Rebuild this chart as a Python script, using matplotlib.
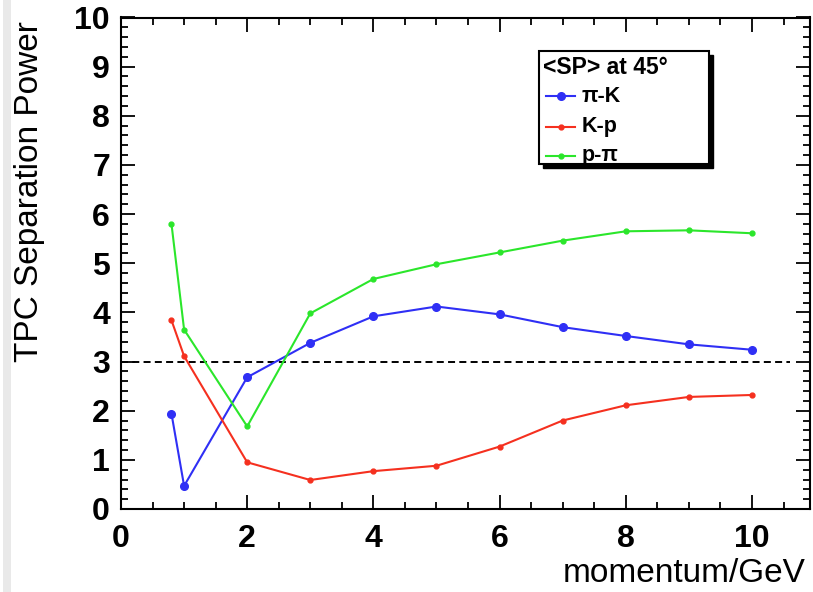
import matplotlib
matplotlib.use("Agg")
import matplotlib.pyplot as plt
from matplotlib.patches import Rectangle
from matplotlib.lines import Line2D
from matplotlib.ticker import MultipleLocator

momentum = [0.8, 1, 2, 3, 4, 5, 6, 7, 8, 9, 10]
sp_pi_k = [1.94, 0.47, 2.68, 3.38, 3.92, 4.12, 3.96, 3.70, 3.52, 3.35, 3.24]
sp_k_p = [3.84, 3.11, 0.95, 0.59, 0.77, 0.88, 1.27, 1.80, 2.11, 2.28, 2.32]
sp_p_pi = [5.80, 3.65, 1.68, 3.98, 4.68, 4.98, 5.22, 5.46, 5.65, 5.67, 5.61]
threshold = 3

blue = "#2f2ff5"
red = "#f5301f"
green = "#2be62b"

W, H = 813, 592
plt.rcParams['font.family'] = ['Liberation Sans', 'DejaVu Sans']

fig = plt.figure(figsize=(W / 100, H / 100), dpi=100)
# axes box in pixels: left 121, right 810, top 17.5, bottom 509
ax = fig.add_axes([121 / W, 1 - 509 / H, (810 - 121) / W, (509 - 17.5) / H])

ax.plot(momentum, sp_pi_k, color=blue, lw=1.5, marker='o', ms=5.5, zorder=3)
ax.plot(momentum, sp_k_p, color=red, lw=1.5, marker='o', ms=3.5, zorder=3)
ax.plot(momentum, sp_p_pi, color=green, lw=1.5, marker='o', ms=3.5, zorder=3)
ax.plot([0, 10.6], [threshold, threshold], color='black', lw=1.4,
        dashes=(3.6, 2.2), zorder=2)

ax.set_xlim(0, 10.92)
ax.set_ylim(0, 10)
ax.xaxis.set_major_locator(MultipleLocator(2))
ax.xaxis.set_minor_locator(MultipleLocator(0.5))
ax.yaxis.set_major_locator(MultipleLocator(1))
ax.yaxis.set_minor_locator(MultipleLocator(0.2))
ax.tick_params(which='both', direction='in', top=True, right=True, width=1.3)
ax.tick_params(which='major', length=10)
ax.tick_params(which='minor', length=5)
ax.tick_params(axis='x', pad=11)
ax.tick_params(axis='y', pad=8)
for lab in ax.get_xticklabels() + ax.get_yticklabels():
    lab.set_fontsize(23)
    lab.set_fontweight('bold')
for s in ax.spines.values():
    s.set_linewidth(1.5)

fig.text(30 / W, 1 - 21 / H, "TPC Separation Power", rotation=90,
         ha='center', va='top', fontsize=24)
fig.text(806 / W, 1 - 574 / H, "momentum/GeV", ha='right', va='center',
         fontsize=24)

# grey strip at left edge
fig.add_artist(Rectangle((3 / W, 0), 8 / W, 1, transform=fig.transFigure,
                         facecolor='#e9e9e9', edgecolor='none'))

# legend box with shadow
def px(x, y):
    return x / W, 1 - y / H

lx0, ly0, lx1, ly1 = 539, 51, 709, 164
fig.add_artist(Rectangle(px(lx0 + 4, ly1 + 4), (lx1 - lx0) / W, (ly1 - ly0) / H,
                         transform=fig.transFigure, facecolor='black',
                         edgecolor='black', zorder=5))
fig.add_artist(Rectangle(px(lx0, ly1), (lx1 - lx0) / W, (ly1 - ly0) / H,
                         transform=fig.transFigure, facecolor='white',
                         edgecolor='black', lw=1.5, zorder=6))
fig.text(*px(543, 68), "<SP> at 45°", ha='left', va='center',
         fontsize=16.5, fontweight='bold', zorder=7)
entries = [("π-K", blue, 5.5, 96), ("K-p", red, 3.5, 127), ("p-π", green, 3.5, 156)]
for name, col, ms, yy in entries:
    x0, y0 = px(546, yy)
    x1, _ = px(575, yy)
    fig.add_artist(Line2D([x0, x1], [y0, y0], transform=fig.transFigure,
                          color=col, lw=1.5, zorder=7))
    fig.add_artist(Line2D([(x0 + x1) / 2], [y0], transform=fig.transFigure,
                          color=col, marker='o', ms=ms, zorder=7))
    fig.text(*px(582, yy), name, ha='left', va='center', fontsize=15.5,
             fontweight='bold', zorder=7)

fig.savefig("out.png", dpi=100)
